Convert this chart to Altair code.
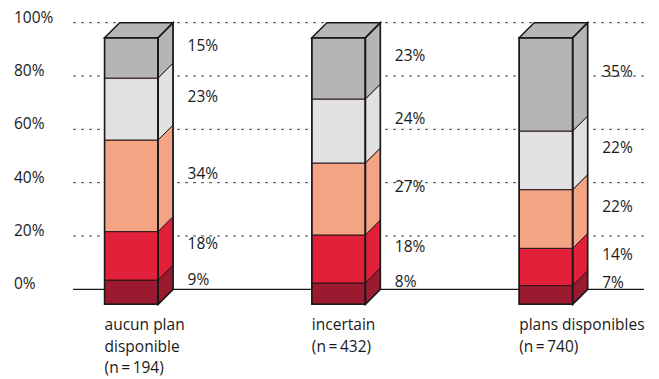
import altair as alt
import pandas as pd

# Groups (x categories), shown under each column
groups = [
    "aucun plan\ndisponible\n(n\u2009=\u2009194)",
    "incertain\n(n\u2009=\u2009432)",
    "plans disponibles\n(n\u2009=\u2009740)",
]

# Shares per group, stacked from the bottom up (percent)
aucun_plan = [9, 18, 34, 23, 15]
incertain = [8, 18, 27, 24, 23]
plans_dispo = [7, 14, 22, 22, 35]
series = [aucun_plan, incertain, plans_dispo]

# Fill for each stack level, bottom to top
level_colors = ["#9B1A2F", "#E2203A", "#F2A485", "#E1E1E1", "#B5B5B5"]

# y-axis ticks
tick_values = [0, 20, 40, 60, 80, 100]
tick_labels = [f"{v}%" for v in tick_values]

# --- drawing style -------------------------------------------------------
FONT = "Open Sans"
FS = 15.5
INK = "#1a1a1a"
HW = 0.129      # half width of a column face (x units)
DX = 0.0724     # horizontal depth of the 3-D box (x units)
DY = 5.63       # vertical depth of the 3-D box (y units)
GAP = 0.07      # space between the box and its value labels (x units)

xscale = alt.Scale(domain=[0, 2], range=[131.3, 545.9], nice=False, zero=False)
yscale = alt.Scale(domain=[0, 100], range=[289.3, 22.7], nice=False, zero=False)

front_rows, side_rows, top_rows = [], [], []
outline_front, outline_side, label_rows, cat_rows = [], [], [], []

for i, (name, vals) in enumerate(zip(groups, series)):
    total = float(sum(vals))
    xl, xr = i - HW, i + HW
    c0 = 0.0
    for k, v in enumerate(vals):
        c1 = c0 + 100.0 * v / total
        col = level_colors[k]
        key = f"{i}-{k}"
        front_rows.append(dict(x=xl, x2=xr, y=c0 - DY, y2=c1 - DY, fill=col))
        side_rows.append(dict(key=key, x=xr, y=c0 - DY, y2=c1 - DY, fill=col))
        side_rows.append(dict(key=key, x=xr + DX, y=c0, y2=c1, fill=col))
        label_rows.append(dict(x=xr + DX + GAP, y=(c0 + c1) / 2, txt=f"{v}%"))
        c0 = c1
    top_rows.append(dict(key=str(i), y=100 - DY, x=xl, x2=xr, fill=level_colors[-1]))
    top_rows.append(dict(key=str(i), y=100, x=xl + DX, x2=xr + DX, fill=level_colors[-1]))
    outline_front.append(dict(x=xl, x2=xr, y=-DY, y2=100 - DY))
    outline_side.append(dict(key=str(i), x=xr, y=-DY, y2=100 - DY))
    outline_side.append(dict(key=str(i), x=xr + DX, y=0, y2=100))
    cat_rows.append(dict(x=xl, name=name))

grid = alt.Chart(pd.DataFrame({"v": tick_values[1:]})).mark_rule(
    color="#444", strokeWidth=1, strokeDash=[3, 5]
).encode(
    y=alt.Y("v:Q", scale=yscale, axis=None),
    x=alt.value(73), x2=alt.value(644),
)

baseline = alt.Chart(pd.DataFrame({"v": [0]})).mark_rule(
    color=INK, strokeWidth=1.2
).encode(
    y=alt.Y("v:Q", scale=yscale, axis=None),
    x=alt.value(73), x2=alt.value(644),
)

ylabels = alt.Chart(pd.DataFrame({"v": tick_values, "t": tick_labels})).mark_text(
    align="left", baseline="alphabetic", font=FONT, fontSize=FS, color=INK
).encode(
    y=alt.Y("v:Q", scale=yscale, axis=None),
    x=alt.value(14),
    text="t:N",
)

front = alt.Chart(pd.DataFrame(front_rows)).mark_rect(
    stroke="#2a1518", strokeWidth=1
).encode(
    x=alt.X("x:Q", scale=xscale, axis=None), x2="x2:Q",
    y=alt.Y("y:Q", scale=yscale, axis=None), y2="y2:Q",
    color=alt.Color("fill:N", scale=None),
)

side = alt.Chart(pd.DataFrame(side_rows)).mark_area(
    orient="vertical", stroke="#2a1518", strokeWidth=1
).encode(
    x=alt.X("x:Q", scale=xscale, axis=None),
    y=alt.Y("y:Q", scale=yscale, axis=None, stack=None), y2="y2:Q",
    color=alt.Color("fill:N", scale=None),
    detail="key:N",
)

top = alt.Chart(pd.DataFrame(top_rows)).mark_area(
    orient="horizontal", stroke=INK, strokeWidth=1.5
).encode(
    y=alt.Y("y:Q", scale=yscale, axis=None),
    x=alt.X("x:Q", scale=xscale, axis=None, stack=None), x2="x2:Q",
    color=alt.Color("fill:N", scale=None),
    detail="key:N",
)

front_edge = alt.Chart(pd.DataFrame(outline_front)).mark_rect(
    fillOpacity=0, stroke=INK, strokeWidth=1.6
).encode(
    x=alt.X("x:Q", scale=xscale, axis=None), x2="x2:Q",
    y=alt.Y("y:Q", scale=yscale, axis=None), y2="y2:Q",
)

side_edge = alt.Chart(pd.DataFrame(outline_side)).mark_area(
    orient="vertical", fillOpacity=0, stroke=INK, strokeWidth=1.6
).encode(
    x=alt.X("x:Q", scale=xscale, axis=None),
    y=alt.Y("y:Q", scale=yscale, axis=None, stack=None), y2="y2:Q",
    detail="key:N",
)

values_text = alt.Chart(pd.DataFrame(label_rows)).mark_text(
    align="left", baseline="middle", dy=3, font=FONT, fontSize=FS, color=INK
).encode(
    x=alt.X("x:Q", scale=xscale, axis=None),
    y=alt.Y("y:Q", scale=yscale, axis=None),
    text="txt:N",
)

categories = alt.Chart(pd.DataFrame(cat_rows)).mark_text(
    align="left", baseline="alphabetic", lineBreak="\n", lineHeight=21.5,
    font=FONT, fontSize=FS, color=INK
).encode(
    x=alt.X("x:Q", scale=xscale, axis=None),
    y=alt.value(330),
    text="name:N",
)

chart = alt.layer(
    grid, baseline, ylabels, front, side, top, front_edge, side_edge,
    values_text, categories
).properties(
    width=659, height=379, padding=0,
    autosize=alt.AutoSizeParams(type="none"),
    background="white",
).configure_view(stroke=None)

chart.save("out.html", embed_options={"renderer": "svg", "actions": False})
